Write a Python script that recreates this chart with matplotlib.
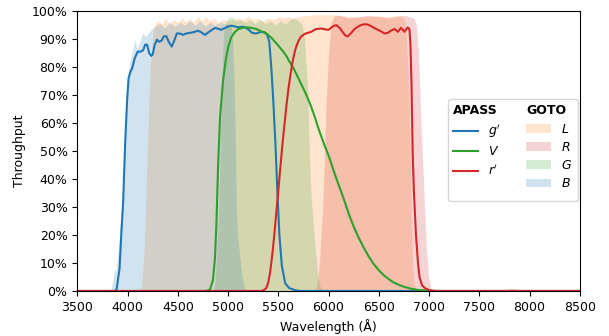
import matplotlib
matplotlib.use("Agg")
import matplotlib.pyplot as plt
from matplotlib.lines import Line2D
from matplotlib.patches import Patch
from matplotlib.ticker import PercentFormatter, MultipleLocator

# ---------------- data (wavelength in Angstrom, throughput in %) ----------------
# APASS g'
g_wl = [3000, 3870, 3890, 3920, 3940, 3956, 3975, 3995, 4010, 4030, 4045, 4070, 4100, 4130,
        4155, 4175, 4194, 4215, 4235, 4250, 4270, 4293, 4315, 4340, 4360, 4386, 4410, 4440,
        4465, 4490, 4520, 4550, 4583, 4620, 4660, 4700, 4730, 4770, 4800, 4840, 4873, 4900,
        4931, 4960, 5000, 5030, 5070, 5100, 5130, 5163, 5200, 5240, 5279, 5320, 5360, 5390,
        5410, 5430, 5450, 5472, 5490, 5511, 5535, 5569, 5610, 5666, 5720, 9000]
g_tp = [0, 0, 0.5, 8, 22, 32, 52, 68, 76, 78.5, 79.5, 83, 85.5, 85.5,
        86, 88, 88, 85, 84, 84.5, 88, 89.8, 89, 89.5, 91, 91, 89, 87.3,
        89.5, 92, 92, 91.5, 92, 92.2, 92.5, 93, 92.5, 91.5, 92.3, 93.3, 94, 93.7,
        93.3, 93.8, 94.5, 94.8, 94.5, 94.2, 94.4, 94.3, 93.5, 92.2, 92, 92.5, 92.5, 91.5,
        89, 80, 68, 52, 36, 20, 9, 2.7, 1, 0.3, 0, 0]

# APASS V
v_wl = [3000, 4780, 4820, 4850, 4870, 4885, 4900, 4920, 4950, 4975, 5000, 5030, 5066, 5100,
        5140, 5182, 5230, 5281, 5330, 5381, 5430, 5480, 5520, 5550, 5580, 5610, 5640, 5666,
        5700, 5740, 5780, 5820, 5860, 5900, 5950, 6014, 6050, 6100, 6150, 6207, 6250, 6300,
        6350, 6400, 6450, 6500, 6550, 6600, 6650, 6700, 6750, 6800, 6850, 6900, 6950, 7000,
        7100, 9000]
v_tp = [0, 0, 0.5, 4, 12, 25, 44, 62, 75, 82, 87, 90.5, 92.5, 93.5,
        94, 94.2, 94, 93.6, 92.8, 92, 90.5, 88.5, 86.8, 85.5, 84, 82, 80.3, 78.5,
        76, 73, 70, 66.5, 62.5, 58, 53, 47, 43, 38, 33, 27, 23, 19,
        15.5, 12.3, 9.6, 7.4, 5.6, 4.2, 3, 2.2, 1.5, 1, 0.6, 0.35, 0.2, 0.1,
        0, 0]

# APASS r'
r_wl = [3000, 5330, 5360, 5380, 5400, 5420, 5440, 5460, 5480, 5500, 5520, 5540, 5560, 5580,
        5600, 5620, 5640, 5660, 5680, 5700, 5724, 5760, 5800, 5828, 5870, 5927, 5960, 6000,
        6040, 6077, 6110, 6140, 6170, 6193, 6220, 6265, 6310, 6350, 6391, 6430, 6474, 6520,
        6557, 6590, 6620, 6656, 6689, 6722, 6755, 6788, 6805, 6815, 6825, 6838, 6850, 6870,
        6890, 6905, 6930, 6960, 7000, 7060, 9000]
r_tp = [0, 0, 0.4, 1, 3, 7, 13, 20, 28, 36, 44, 52, 59, 66,
        72, 77, 81.5, 85, 87.5, 89.3, 90.8, 91.8, 92.3, 92.6, 93.5, 93.8, 93.5, 93.3,
        94.5, 95, 94, 92.5, 91.2, 91, 92, 93.8, 94.8, 95.3, 95.2, 94.5, 93.6, 92.8,
        92, 92.2, 93, 93.6, 92.6, 94, 92.6, 94.2, 93.5, 88, 75, 48, 35, 20,
        10, 5, 2, 1, 0.3, 0, 0]

# GOTO L
l_wl = [3000, 4120, 4140, 4165, 4196, 4225, 4254, 4280, 4300, 4340, 4380, 4420, 4460, 4500,
        4540, 4580, 4620, 4660, 4700, 4740, 4780, 4820, 4860, 4900, 4950, 5000, 5050, 5100,
        5150, 5200, 5250, 5300, 5350, 5400, 5450, 5500, 5550, 5600, 5650, 5700, 5800, 5900,
        6000, 6100, 6200, 6300, 6400, 6500, 6600, 6700, 6750, 6770, 6790, 6805, 6820, 6835,
        6850, 6870, 9000]
l_tp = [0, 0, 2, 15, 50, 80, 93, 96, 96.5, 95.5, 97.5, 95.5, 97, 96,
        97.5, 96, 97.5, 96, 98, 96.5, 98, 96.5, 97.5, 96, 97, 96.5, 97, 97.5,
        97, 98, 97, 97.5, 96.5, 97.5, 97, 98, 97.5, 98, 97.5, 98, 98.5, 98.7,
        98.7, 98.5, 98, 97.8, 98, 98.3, 98, 98.5, 97.5, 93, 80, 60, 35, 12,
        3, 0, 0]

# GOTO R
rr_wl = [3000, 5870, 5890, 5911, 5944, 5977, 6000, 6027, 6060, 6100, 6200, 6300, 6400, 6500,
         6600, 6700, 6750, 6800, 6850, 6875, 6895, 6910, 6925, 6937, 6955, 6975, 6995, 7020,
         7050, 7750, 7800, 7850, 7900, 8150, 8250, 8350, 9000]
rr_tp = [0, 0, 3, 11, 32, 68, 85, 96, 98.5, 98.5, 97.5, 98, 98.5, 98,
         97.5, 98.2, 98.6, 98, 97.5, 95, 85, 70, 55, 46, 30, 15, 5, 1,
         0, 0, 1, 0.8, 0, 0, 0.4, 0, 0]

# GOTO G
gg_wl = [3000, 4850, 4867, 4885, 4907, 4925, 4940, 4955, 4975, 5000, 5040, 5080, 5120, 5170,
         5220, 5270, 5320, 5370, 5420, 5470, 5520, 5570, 5620, 5660, 5700, 5740, 5760, 5780,
         5795, 5811, 5830, 5861, 5894, 5920, 5950, 9000]
gg_tp = [0, 0, 2, 12, 29, 55, 78, 92, 96, 97.5, 98, 96.5, 97, 96,
         97, 95.5, 97, 95.5, 96.5, 95, 96.5, 95.5, 97, 97.5, 96.5, 95, 90, 80,
         68, 46, 32, 18, 5, 1, 0, 0]

# GOTO B
bb_wl = [3000, 3830, 3850, 3870, 3885, 3900, 3920, 3944, 3965, 3983, 4005, 4030, 4050, 4072,
         4090, 4105, 4130, 4154, 4178, 4204, 4237, 4270, 4320, 4370, 4420, 4470, 4520, 4570,
         4620, 4670, 4720, 4770, 4820, 4870, 4920, 4970, 5030, 5045, 5060, 5072, 5082, 5100,
         5120, 5140, 5165, 5190, 9000]
bb_tp = [0, 0, 3, 8, 7, 12, 20, 32, 50, 68, 78, 83, 86, 90,
         87, 87.3, 90, 92.4, 90.9, 92, 93.5, 94.5, 95.5, 94, 96, 94.5, 96, 95,
         96.5, 95, 96.5, 94.5, 96, 95, 96, 95.5, 95, 90, 75, 55, 30, 18,
         11, 5, 1, 0, 0]

apass_labels = [r"$g'$", r"$V$", r"$r'$"]
goto_labels = [r"$L$ ", r"$R$ ", r"$G$ ", r"$B$ "]
x_ticks = list(range(3500, 8501, 500))

# ---------------- figure ----------------
plt.rcParams["font.family"] = ["DejaVu Sans"]
plt.rcParams["font.size"] = 9
fig = plt.figure(figsize=(6.09, 3.36), dpi=100)
ax = fig.add_axes([0.127, 0.134, 0.825, 0.833])

fill_specs = [(l_wl, l_tp, "tab:orange"), (rr_wl, rr_tp, "tab:red"),
              (gg_wl, gg_tp, "tab:green"), (bb_wl, bb_tp, "tab:blue")]
fill_handles = []
for wl, tp, col in fill_specs:
    ax.fill_between(wl, 0, tp, color=col, alpha=0.2, lw=0)
    fill_handles.append(Patch(facecolor=col, alpha=0.2, edgecolor="none"))

line_specs = [(g_wl, g_tp, "tab:blue"), (v_wl, v_tp, "tab:green"), (r_wl, r_tp, "tab:red")]
line_handles = []
for wl, tp, col in line_specs:
    h, = ax.plot(wl, tp, color=col, lw=1.5)
    line_handles.append(h)

ax.set_xlim(3500, 8500)
ax.set_ylim(0, 100)
ax.set_xticks(x_ticks)
ax.yaxis.set_major_locator(MultipleLocator(10))
ax.yaxis.set_major_formatter(PercentFormatter(100, decimals=0))
ax.set_xlabel("Wavelength (Å)")
ax.set_ylabel("Throughput")

blank = Line2D([], [], color="none")
handles = [blank] + line_handles + [blank] + [blank] + fill_handles
labels = [" "] + apass_labels + [" "] + [" "] + goto_labels
leg = ax.legend(handles, labels, ncol=2, loc="center right",
                bbox_to_anchor=(0.996, 0.502), borderaxespad=0.0,
                handlelength=2.0, handletextpad=0.8, columnspacing=2.0,
                labelspacing=0.42)

fig.canvas.draw()
renderer = fig.canvas.get_renderer()
texts = leg.get_texts()
shift = (2.0 + 0.8) * 9 * fig.dpi / 72.0
inv = fig.transFigure.inverted()
for idx, title in [(0, "APASS"), (5, "GOTO")]:
    bb = texts[idx].get_window_extent(renderer)
    x, y = inv.transform((bb.x0 - shift, bb.y0))
    fig.text(x, y, title, fontweight="bold", ha="left", va="bottom", fontsize=9, zorder=10)

fig.savefig("out.png", dpi=100)
